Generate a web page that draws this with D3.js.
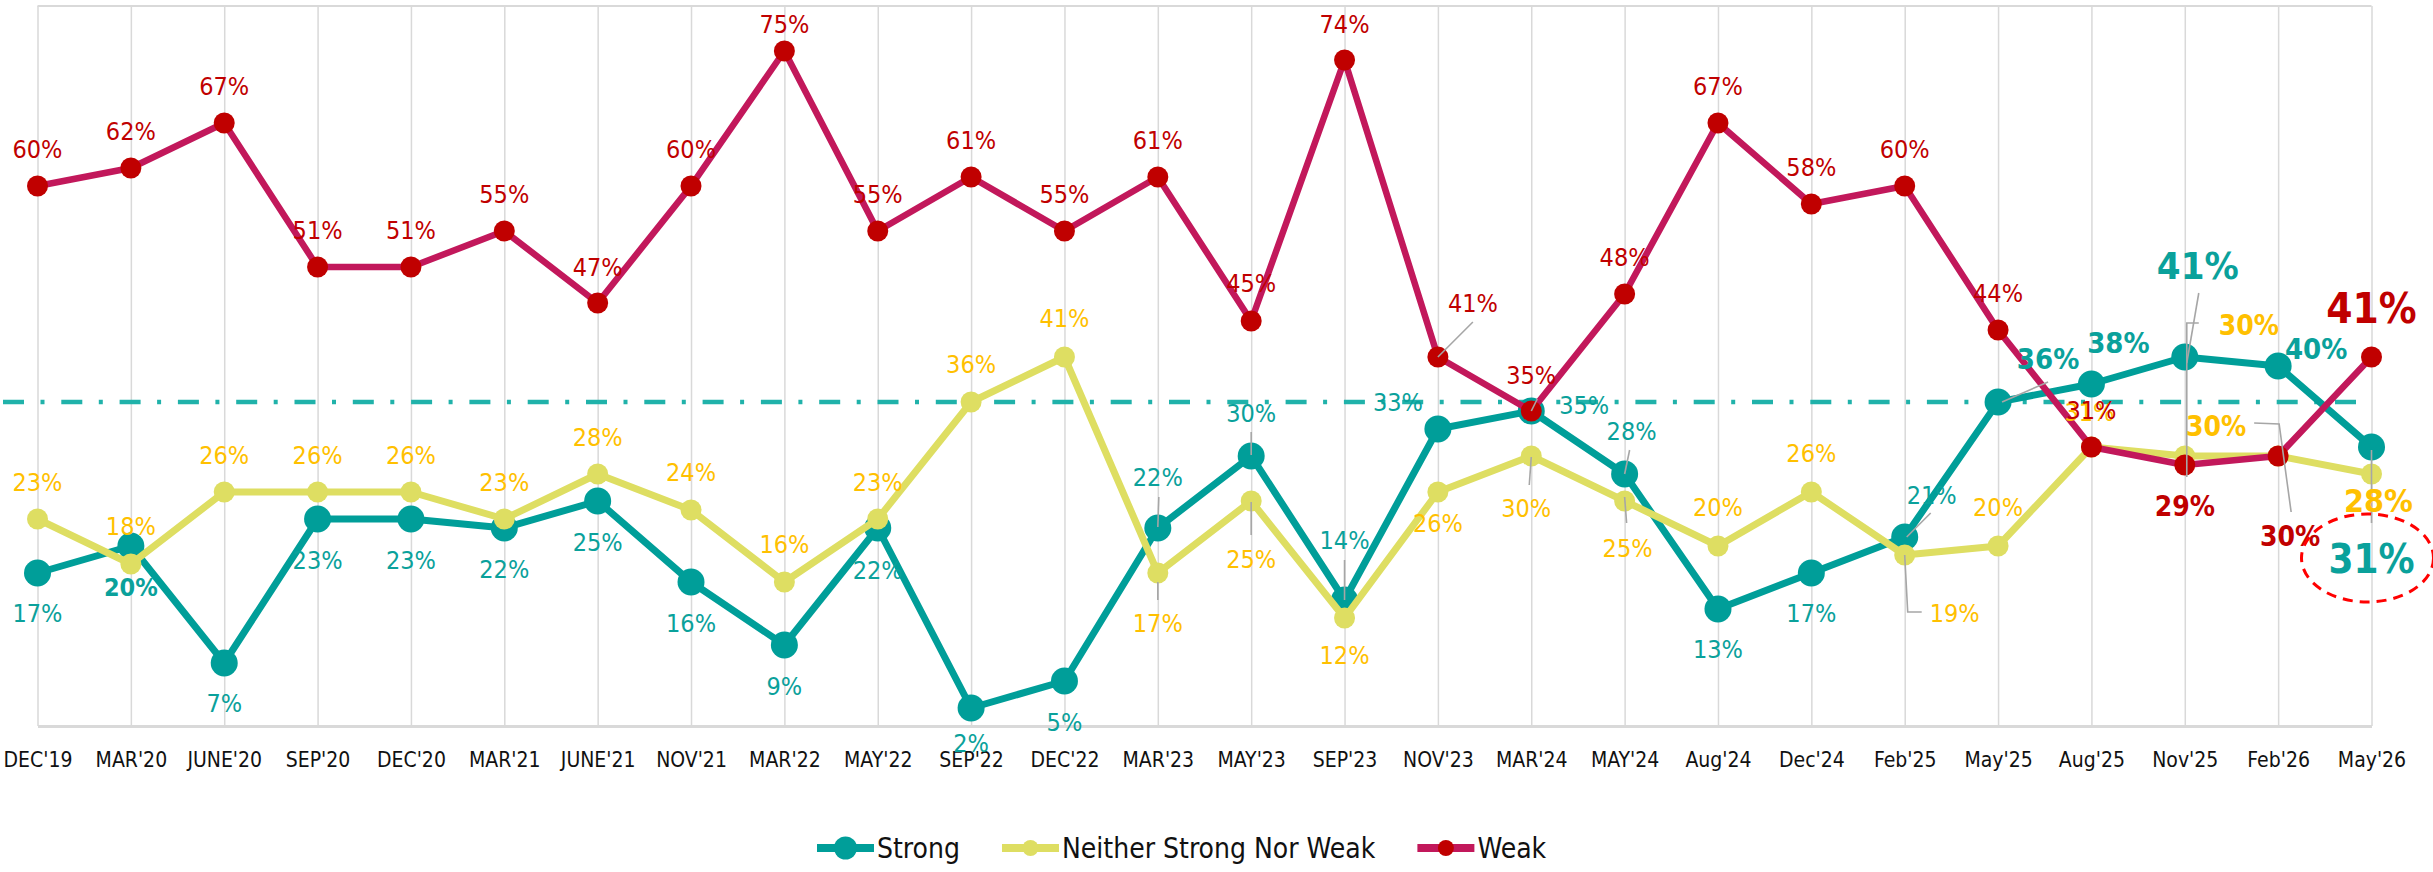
<!DOCTYPE html>
<html>
<head>
<meta charset="utf-8">
<script src="https://cdn.jsdelivr.net/npm/d3@7"></script>
<style>
  body { margin: 0; background: #fff; }
  svg text { font-family: "DejaVu Sans Condensed", "DejaVu Sans", sans-serif; font-stretch: condensed; }
</style>
</head>
<body>
<svg id="chart" width="2433" height="872"></svg>
<script>
// ---- data ----
const categories = ["DEC'19","MAR'20","JUNE'20","SEP'20","DEC'20","MAR'21","JUNE'21","NOV'21","MAR'22","MAY'22",
  "SEP'22","DEC'22","MAR'23","MAY'23","SEP'23","NOV'23","MAR'24","MAY'24","Aug'24","Dec'24",
  "Feb'25","May'25","Aug'25","Nov'25","Feb'26","May'26"];
const strong  = [17,20,7,23,23,22,25,16,9,22,2,5,22,30,14,33,35,28,13,17,21,36,38,41,40,31];
const neither = [23,18,26,26,26,23,28,24,16,23,36,41,17,25,12,26,30,25,20,26,19,20,31,30,30,28];
const weak    = [60,62,67,51,51,55,47,60,75,55,61,55,61,45,74,41,35,48,67,58,60,44,31,29,30,41];
const seriesNames = ["Strong", "Neither Strong Nor Weak", "Weak"];
const targetValue = 36;

// ---- label layout (offsets from the point to the label centre) ----
const strongLabelPos = [[0,40],[0,41],[0,40],[0,41],[0,41],[0,41],[0,41],[0,41],[0,41],[0,42],[0,35],[0,41],[0,-51],
  [0,-43],[0,-60],[-40,-27],[53,-6],[7,-43],[0,40],[0,40],[27,-42],[50,-43],[27,-41],[13,-92],[38,-17],[0,112]];
const neitherLabelPos = [[0,-37],[0,-38],[0,-37],[0,-37],[0,-37],[0,-37],[0,-37],[0,-38],[0,-38],[0,-37],[0,-38],[0,-39],[0,50],
  [0,58],[0,37],[0,31],[-5,52],[3,47],[0,-39],[0,-39],[50,58],[0,-39],[-2,-35],[64,-131],[-62,-30],[7,26]];
const weakLabelPos = [[0,-37],[0,-37],[0,-37],[0,-37],[0,-37],[0,-37],[0,-36],[0,-37],[0,-27],[0,-37],[0,-37],[0,-37],[0,-37],
  [0,-38],[0,-36],[35,-54],[0,-36],[0,-37],[0,-37],[0,-37],[0,-37],[0,-37],[0,-37],[0,41],[12,80],[0,-49]];
// bold labels: index -> font size
const strongBold  = {1:25, 21:29, 22:29, 23:38, 24:29, 25:40};
const neitherBold = {23:28, 24:28, 25:32};
const weakBold    = {23:28, 24:28, 25:42};
// grey leader lines, points relative to the data point
const strongLeaders  = {12:[[0,-1],[1,-31]], 13:[[0,-1],[0,-24]], 14:[[0,0],[0,-40]], 17:[[0,0],[5,-24]],
  20:[[2,0],[26,-24]], 21:[[4,0],[50,-20]], 23:[[2,6],[14,-64]], 25:[[0,3],[0,76]]};
const neitherLeaders = {12:[[0,9],[0,27]], 13:[[0,1],[0,34]], 16:[[0,1],[-2,29]], 17:[[0,-4],[2,22]],
  20:[[0,0],[3,57],[17,57]], 23:[[2,21],[2,-133],[14,-133]], 24:[[-24,-33],[1,-32],[13,56]]};
const weakLeaders    = {15:[[0,0],[35,-35]], 16:[[0,0],[6,-12]]};

const svg = d3.select("#chart");
const plotLeft = 37.5, plotRight = 2371.5, plotTop = 6, plotBottom = 726;

const x = d3.scalePoint().domain(categories).range([plotLeft, plotRight]);
const y = d3.scaleLinear().domain([0, 80]).range([plotBottom, plotTop]);

// gridlines
svg.append("g")
  .attr("transform", `translate(0,${plotBottom})`)
  .call(d3.axisBottom(x).tickSize(-(plotBottom - plotTop)).tickFormat(""))
  .call(g => g.select(".domain").remove())
  .selectAll("line").attr("stroke", "#d9d9d9").attr("stroke-width", 1.5);

// frame top
svg.append("line").attr("x1", plotLeft).attr("x2", plotRight).attr("y1", plotTop).attr("y2", plotTop)
  .attr("stroke", "#d9d9d9").attr("stroke-width", 2);

// x axis
const xAxis = svg.append("g")
  .attr("transform", `translate(0,${plotBottom})`)
  .call(d3.axisBottom(x).tickSize(0).tickPadding(26));
xAxis.select(".domain").attr("stroke", "#d9d9d9").attr("stroke-width", 3);
xAxis.selectAll("text").style("font-size", "21px").attr("fill", "#111");

// target line
svg.append("line")
  .attr("x1", 3).attr("x2", plotRight - 2)
  .attr("y1", y(targetValue)).attr("y2", y(targetValue))
  .attr("stroke", "#20b2aa").attr("stroke-width", 4.5)
  .attr("stroke-dasharray", "21,16.5,4,16.8");

const series = [
  {name: seriesNames[0], values: strong, line: "#009e99", dot: "#009e99", r: 13.5, w: 7, label: "#0aa19b",
   pos: strongLabelPos, bold: strongBold, leaders: strongLeaders},
  {name: seriesNames[1], values: neither, line: "#dede62", dot: "#dede62", r: 10.5, w: 7, label: "#ffc000",
   pos: neitherLabelPos, bold: neitherBold, leaders: neitherLeaders},
  {name: seriesNames[2], values: weak, line: "#c2185b", dot: "#c00000", r: 10.5, w: 6.5, label: "#c00000",
   pos: weakLabelPos, bold: weakBold, leaders: weakLeaders}
];

const line = d3.line().x((d, i) => x(categories[i])).y(d => y(d));

series.forEach(s => {
  svg.append("path").datum(s.values)
    .attr("d", line).attr("fill", "none")
    .attr("stroke", s.line).attr("stroke-width", s.w).attr("stroke-linejoin", "round");
  svg.append("g").selectAll("circle").data(s.values).enter().append("circle")
    .attr("cx", (d, i) => x(categories[i])).attr("cy", d => y(d))
    .attr("r", s.r).attr("fill", s.dot);
});

// leaders
series.forEach(s => {
  Object.keys(s.leaders).forEach(k => {
    const i = +k;
    const px = x(categories[i]), py = y(s.values[i]);
    svg.append("polyline")
      .attr("points", s.leaders[k].map(p => [px + p[0], py + p[1]].join(",")).join(" "))
      .attr("fill", "none").attr("stroke", "#a6a6a6").attr("stroke-width", 1.6);
  });
});

// labels (weak last so it sits on top where they collide)
series.forEach(s => {
  svg.append("g").selectAll("text").data(s.values).enter().append("text")
    .attr("x", (d, i) => x(categories[i]) + s.pos[i][0])
    .attr("y", (d, i) => y(d) + s.pos[i][1])
    .attr("dy", "0.36em")
    .attr("text-anchor", "middle")
    .attr("fill", s.label)
    .style("font-size", (d, i) => (s.bold[i] || 25) + "px")
    .style("font-weight", (d, i) => s.bold[i] ? "bold" : "normal")
    .text(d => d + "%");
});

// highlight ellipse round the last Strong label
const last = categories.length - 1;
svg.append("ellipse")
  .attr("cx", x(categories[last]) - 4)
  .attr("cy", y(strong[last]) + strongLabelPos[last][1] - 1)
  .attr("rx", 66).attr("ry", 44)
  .attr("fill", "none").attr("stroke", "#ff0000").attr("stroke-width", 3)
  .attr("stroke-dasharray", "10,7");

// legend
const legendY = 848;
let lx = 817;
series.forEach(s => {
  const g = svg.append("g");
  g.append("line").attr("x1", lx).attr("x2", lx + 57).attr("y1", legendY).attr("y2", legendY)
    .attr("stroke", s.line).attr("stroke-width", 8);
  g.append("circle").attr("cx", lx + 28.5).attr("cy", legendY)
    .attr("r", s === series[0] ? 11.5 : 8).attr("fill", s.dot);
  const t = g.append("text").attr("x", lx + 60).attr("y", legendY).attr("dy", "0.36em")
    .style("font-size", "28px").attr("fill", "#111").text(s.name);
  lx += 60 + t.node().getComputedTextLength() + 42;
});
</script>
</body>
</html>
